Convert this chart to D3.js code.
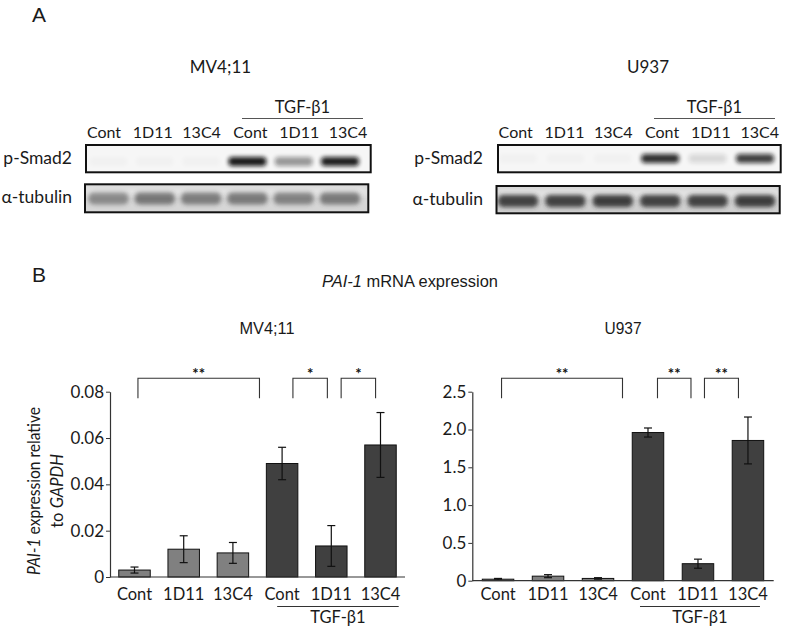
<!DOCTYPE html>
<html><head><meta charset="utf-8">
<script src="https://cdn.jsdelivr.net/npm/d3@7"></script>
<style>
body{margin:0;background:#fff}
svg{display:block}
text{font-family:Lato,'Open Sans',sans-serif;fill:#1a1a1a}
.arial{font-family:'Liberation Sans',Arial,sans-serif}
.narrow{font-family:'Liberation Sans Narrow','Liberation Sans',Arial,sans-serif}
</style>
</head><body>
<svg id="c" width="786" height="628"></svg>
<script>
// ---------- data ----------
const lanes = ["Cont","1D11","13C4","Cont","1D11","13C4"];
const cellLines = ["MV4;11","U937"];
const treatment = "TGF-β1";
const blotRows = ["p-Smad2","α-tubulin"];
// band intensities read from the blots (0 = none, 1 = black)
const pSmadMV = [0.02,0.02,0.02,0.95,0.4,0.92];
const tubulinMV = [0.5,0.62,0.58,0.6,0.55,0.6];
const pSmadU = [0.02,0.02,0.02,0.85,0.12,0.78];
const tubulinU = [0.85,0.85,0.88,0.85,0.85,0.88];
// PAI-1 mRNA relative to GAPDH
const mvMean = [0.003,0.012,0.0104,0.049,0.0134,0.057];
const mvErr  = [0.0013,0.0058,0.0045,0.007,0.0088,0.014];
const uMean  = [0.02,0.06,0.03,1.96,0.225,1.855];
const uErr   = [0.01,0.02,0.01,0.06,0.06,0.31];
const mvTicks = [0,0.02,0.04,0.06,0.08];
const uTicks  = [0,0.5,1.0,1.5,2.0,2.5];
const mvTickLabels = ["0","0.02","0.04","0.06","0.08"];
const uTickLabels  = ["0","0.5","1.0","1.5","2.0","2.5"];
// significance brackets in lane-index units
const mvSig = [{from:0.07,to:2.54,label:"**"},{from:3.22,to:3.92,label:"*"},{from:4.2,to:4.9,label:"*"}];
const uSig  = [{from:0.07,to:2.49,label:"**"},{from:3.19,to:3.86,label:"**"},{from:4.13,to:4.81,label:"**"}];

const svg = d3.select("#c");
const defs = svg.append("defs");
defs.append("filter").attr("id","blur").attr("x","-30%").attr("y","-60%").attr("width","160%").attr("height","220%")
  .append("feGaussianBlur").attr("stdDeviation",2.2);
defs.append("filter").attr("id","blur2").attr("x","-10%").attr("y","-30%").attr("width","120%").attr("height","160%")
  .append("feGaussianBlur").attr("stdDeviation",3);

// ---------- panel letters ----------
svg.append("text").attr("class","arial").attr("x",32).attr("y",22).attr("font-size",21).text("A");
svg.append("text").attr("class","arial").attr("x",32).attr("y",282).attr("font-size",21).text("B");

// ---------- Western blots ----------
const blots = [
  {title:cellLines[0], titleX:220.5, labelRange:[104,348], laneRange:[108.5,340], tgfLine:[242,363],
   box1:[86,145,370.7,172.3], box2:[85,184.3,368.3,212.3], labelEnd:72,
   pSmad:pSmadMV, tub:tubulinMV, tubBg:"#d6d6d6", tubCol:"#3c3c3c", bandY:[161.5,198.5]},
  {title:cellLines[1], titleX:648, labelRange:[515.7,759.7], laneRange:[518,755], tgfLine:[654,775],
   box1:[498,145,780.7,172.3], box2:[496.5,186,779.7,213.3], labelEnd:483,
   pSmad:pSmadU, tub:tubulinU, tubBg:"#cfcfcf", tubCol:"#2a2a2a", bandY:[158.5,201]}
];
blots.forEach((b,bi)=>{
  const g = svg.append("g");
  g.append("text").attr("x",b.titleX).attr("y",73).attr("text-anchor","middle").attr("font-size",17).text(b.title);
  const lx = d3.scalePoint().domain(d3.range(6)).range(b.labelRange);
  const bx = d3.scalePoint().domain(d3.range(6)).range(b.laneRange);
  g.append("text").attr("x",(b.tgfLine[0]+b.tgfLine[1])/2).attr("y",113).attr("text-anchor","middle").attr("font-size",16.5).text(treatment);
  g.append("line").attr("x1",b.tgfLine[0]).attr("x2",b.tgfLine[1]).attr("y1",118.5).attr("y2",118.5).attr("stroke","#555").attr("stroke-width",1.2);
  g.selectAll(".ln").data(lanes).join("text").attr("x",(d,i)=>lx(i)).attr("y",138).attr("text-anchor","middle").attr("font-size",16).text(d=>d);
  const boxes=[b.box1,b.box2];
  boxes.forEach((bx1,k)=>{
    defs.append("clipPath").attr("id",`clip${bi}${k}`).append("rect")
      .attr("x",bx1[0]).attr("y",bx1[1]).attr("width",bx1[2]-bx1[0]).attr("height",bx1[3]-bx1[1]);
  });
  const r1 = g.append("g").attr("clip-path",`url(#clip${bi}0)`);
  r1.append("rect").attr("x",b.box1[0]).attr("y",b.box1[1]).attr("width",b.box1[2]-b.box1[0]).attr("height",b.box1[3]-b.box1[1]).attr("fill","#f6f6f6");
  r1.selectAll(".band").data(b.pSmad).join("rect")
    .attr("x",(d,i)=>bx(i)-19).attr("y",b.bandY[0]-4.5).attr("width",38).attr("height",9).attr("rx",4)
    .attr("fill","#0a0a0a").attr("opacity",d=>d).attr("filter","url(#blur)");
  const r2 = g.append("g").attr("clip-path",`url(#clip${bi}1)`);
  r2.append("rect").attr("x",b.box2[0]).attr("y",b.box2[1]).attr("width",b.box2[2]-b.box2[0]).attr("height",b.box2[3]-b.box2[1]).attr("fill",b.tubBg);
  r2.append("rect").attr("x",b.box2[0]).attr("y",b.box2[1]+3).attr("width",b.box2[2]-b.box2[0]).attr("height",8).attr("fill","#e6e6e6").attr("filter","url(#blur2)");
  r2.selectAll(".band").data(b.tub).join("rect")
    .attr("x",(d,i)=>bx(i)-20).attr("y",b.bandY[1]-6).attr("width",40).attr("height",12).attr("rx",5)
    .attr("fill",b.tubCol).attr("opacity",d=>d).attr("filter","url(#blur)");
  boxes.forEach(bb=>{
    g.append("rect").attr("x",bb[0]).attr("y",bb[1]).attr("width",bb[2]-bb[0]).attr("height",bb[3]-bb[1])
      .attr("fill","none").attr("stroke","#111").attr("stroke-width",2);
  });
  g.append("text").attr("x",b.labelEnd).attr("y",(b.box1[1]+b.box1[3])/2+5).attr("text-anchor","end").attr("font-size",17.5).text(blotRows[0]);
  g.append("text").attr("x",b.labelEnd).attr("y",(b.box2[1]+b.box2[3])/2+5).attr("text-anchor","end").attr("font-size",17.5).text(blotRows[1]);
});

// ---------- panel B ----------
const tt = svg.append("text").attr("class","narrow").attr("x",410).attr("y",287).attr("text-anchor","middle").attr("font-size",17)
  .attr("textLength",176).attr("lengthAdjust","spacingAndGlyphs");
tt.append("tspan").attr("font-style","italic").text("PAI-1");
tt.append("tspan").text(" mRNA expression");

const charts = [
  {title:cellLines[0], titleX:267, xr:[110,405], yr:[577,391.7], dom:[0,0.08], mean:mvMean, err:mvErr,
   ticks:mvTicks, tickLabels:mvTickLabels, sig:mvSig, tgf:[2.9,5.37], pi:0.36, po:0.178},
  {title:cellLines[1], titleX:623, xr:[472.3,773.7], yr:[580.7,391.7], dom:[0,2.5], mean:uMean, err:uErr,
   ticks:uTicks, tickLabels:uTickLabels, sig:uSig, tgf:[2.84,5.24], pi:0.37, po:0.2}
];
charts.forEach((c,ci)=>{
  const g = svg.append("g");
  g.append("text").attr("class","narrow").attr("x",c.titleX).attr("y",334).attr("text-anchor","middle").attr("font-size",17)
    .attr("textLength",c.title.length>4?55:37).attr("lengthAdjust","spacingAndGlyphs").text(c.title);
  const x = d3.scaleBand().domain(d3.range(6)).range(c.xr).paddingInner(c.pi).paddingOuter(c.po);
  const y = d3.scaleLinear().domain(c.dom).range(c.yr);
  const idx = d3.scaleLinear().domain([0,5]).range([x(0)+x.bandwidth()/2, x(5)+x.bandwidth()/2]);
  g.selectAll(".bar").data(c.mean).join("rect")
    .attr("x",(d,i)=>x(i)).attr("y",d=>y(d)).attr("width",x.bandwidth()).attr("height",d=>y(0)-y(d))
    .attr("fill",(d,i)=>i<3?"#808080":"#404040").attr("stroke","#111").attr("stroke-width",1);
  const eb = g.selectAll(".eb").data(c.mean).join("g");
  eb.append("line").attr("x1",(d,i)=>idx(i)).attr("x2",(d,i)=>idx(i))
    .attr("y1",(d,i)=>y(d+c.err[i])).attr("y2",(d,i)=>y(Math.max(0,d-c.err[i]))).attr("stroke","#111").attr("stroke-width",1.2);
  [1,-1].forEach(s=>{
    eb.append("line").attr("x1",(d,i)=>idx(i)-4).attr("x2",(d,i)=>idx(i)+4)
      .attr("y1",(d,i)=>y(Math.max(0,d+s*c.err[i]))).attr("y2",(d,i)=>y(Math.max(0,d+s*c.err[i]))).attr("stroke","#111").attr("stroke-width",1.2);
  });
  const ax = g.append("g").attr("transform",`translate(${c.xr[0]},0)`)
    .call(d3.axisLeft(y).tickValues(c.ticks).tickFormat((d,i)=>c.tickLabels[i]).tickSize(4).tickSizeOuter(0).tickPadding(2));
  ax.select(".domain").attr("stroke","#333").attr("stroke-width",1.2);
  ax.selectAll(".tick line").attr("stroke","#333");
  ax.selectAll(".tick text").attr("font-family","Lato,'Open Sans',sans-serif").attr("font-size",17).attr("fill","#1a1a1a");
  g.append("line").attr("x1",c.xr[0]).attr("x2",c.xr[1]).attr("y1",y(0)).attr("y2",y(0)).attr("stroke","#333").attr("stroke-width",1.2);
  g.selectAll(".xl").data(lanes).join("text").attr("x",(d,i)=>idx(i)).attr("y",600).attr("text-anchor","middle").attr("font-size",16.5).text(d=>d);
  g.append("line").attr("x1",idx(c.tgf[0])).attr("x2",idx(c.tgf[1])).attr("y1",606.5).attr("y2",606.5).attr("stroke","#333").attr("stroke-width",1.2);
  g.append("text").attr("x",(idx(c.tgf[0])+idx(c.tgf[1]))/2).attr("y",623).attr("text-anchor","middle").attr("font-size",16.5).text(treatment);
  const top = y(c.dom[1]);
  const sg = g.selectAll(".sig").data(c.sig).join("g");
  sg.append("path").attr("d",d=>`M${idx(d.from)},${top+6.5}V${top-13.5}H${idx(d.to)}V${top+6.5}`)
    .attr("fill","none").attr("stroke","#333").attr("stroke-width",1.1);
  sg.append("text").attr("x",d=>(idx(d.from)+idx(d.to))/2).attr("y",top-13).attr("text-anchor","middle")
    .attr("font-size",15).attr("font-weight","bold").attr("font-family","'DejaVu Sans',sans-serif")
    .style("fill","#111").text(d=>d.label);
});

// y axis title
const yt = svg.append("text").attr("transform","translate(40,491) rotate(-90)").attr("text-anchor","middle").attr("font-size",16.5)
  .attr("textLength",168).attr("lengthAdjust","spacingAndGlyphs");
yt.append("tspan").attr("font-style","italic").text("PAI-1");
yt.append("tspan").text(" expression relative");
const yt2 = svg.append("text").attr("transform","translate(63,491) rotate(-90)").attr("text-anchor","middle").attr("font-size",16.5);
yt2.append("tspan").text("to ");
yt2.append("tspan").attr("font-style","italic").text("GAPDH");
</script>
</body></html>
